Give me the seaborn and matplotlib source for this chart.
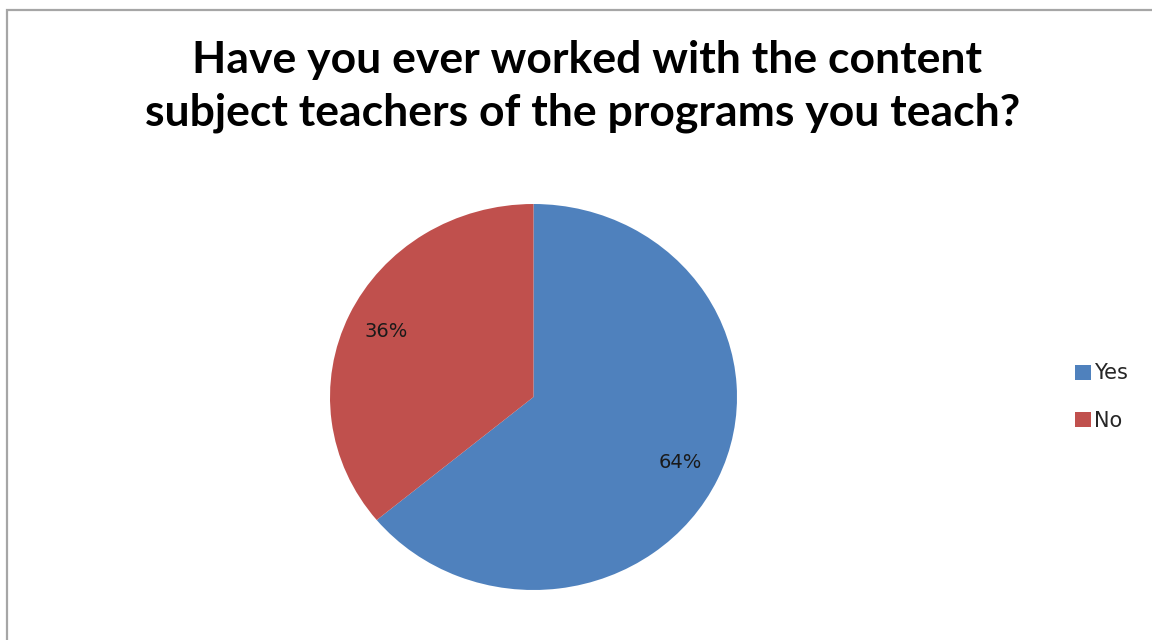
import matplotlib
matplotlib.use("Agg")
import matplotlib.pyplot as plt
from matplotlib.patches import Rectangle, Patch
import seaborn as sns

categories = ["Yes", "No"]
shares = [64, 36]
title_lines = ["Have you ever worked with the content",
               "subject teachers of the programs you teach?"]

sns.set_theme(style="white")
plt.rcParams["font.family"] = ["DejaVu Sans"]
colors = ["#4F81BD", "#C0504D"]

W, H = 1152, 640
fig = plt.figure(figsize=(W / 100, H / 100), dpi=100)
fig.patch.set_facecolor("white")

# outer chart frame (left and top edges visible)
fig.add_artist(Rectangle((7 / W, -0.1), 1.2, 1 - 10 / H + 0.1,
                         transform=fig.transFigure, fill=False,
                         edgecolor="#A6A6A6", linewidth=1.6))

# pie area (slightly wider than tall)
left, right, top, bottom = 330, 737, 204, 590
ax = fig.add_axes([left / W, 1 - bottom / H, (right - left) / W, (bottom - top) / H])
wedges, texts, autotexts = ax.pie(
    shares, colors=colors, startangle=90, counterclock=False,
    autopct=lambda p: f"{p:.0f}%", pctdistance=0.8,
    textprops=dict(fontsize=14, color="#1a1a1a"),
    wedgeprops=dict(linewidth=0))
ax.set_aspect("auto")
ax.set_xlim(-1, 1)
ax.set_ylim(-1, 1)
ax.axis("off")

fig.text(587 / W, 1 - 60 / H, title_lines[0], ha="center", va="center",
         fontsize=32, fontweight="bold", family=["Lato", "DejaVu Sans"], color="black")
fig.text(583 / W, 1 - 113 / H, title_lines[1], ha="center", va="center",
         fontsize=32, fontweight="bold", family=["Lato", "DejaVu Sans"], color="black")

handles = [Patch(facecolor=c, edgecolor="none") for c in colors]
fig.legend(handles, categories, loc="center left",
           bbox_to_anchor=(1075 / W, 1 - 397 / H), frameon=False,
           fontsize=15, handlelength=0.75, handleheight=0.75,
           handletextpad=0.15, labelspacing=1.3, borderpad=0,
           borderaxespad=0)

fig.savefig("out.png", dpi=100, facecolor="white")
